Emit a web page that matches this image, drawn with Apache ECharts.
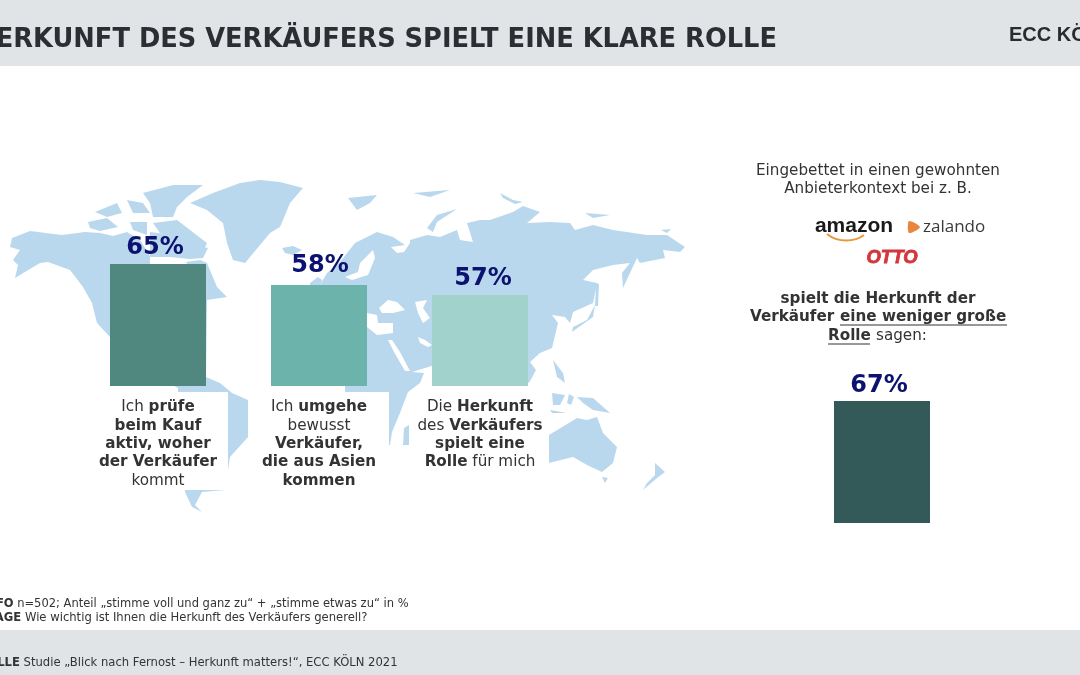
<!DOCTYPE html>
<html>
<head>
<meta charset="utf-8">
<style>html,body{margin:0;padding:0;background:#fff}#main{width:1080px;height:675px}</style>
<script src="https://cdn.jsdelivr.net/npm/echarts@6/dist/echarts.min.js"></script>
</head>
<body>
<div id="main"></div>
<script>
var myChart = echarts.init(document.getElementById('main'));

// Chart data
const categories = [
  'Ich {b|prüfe}\n{b|beim Kauf}\n{b|aktiv, woher}\n{b|der Verkäufer}\nkommt',
  'Ich {b|umgehe}\nbewusst\n{b|Verkäufer,}\n{b|die aus Asien}\n{b|kommen}',
  'Die {b|Herkunft}\ndes {b|Verkäufers}\n{b|spielt eine}\n{b|Rolle} für mich',
  ''
];
const values = [65, 58, 57, 67];
const barColors = ['#508880', '#6bb3ab', '#a1d2cb', '#335a58'];

// Every bar is a separate shape on the slide, so each one gets its own grid
const barBoxes = [
  { left: 110, top: 264, height: 122, gap: 4, dx: -3 },
  { left: 271, top: 285, height: 101, gap: 7, dx: 1 },
  { left: 432, top: 295, height: 91, gap: 4, dx: 3 },
  { left: 834, top: 401, height: 122, gap: 3, dx: -3 }
];

const LAND = '#b9d8ee';
const FONT = '"DejaVu Sans"';
const TEXT = '#333333';
const BODY = 15.2;

// Background map, hand traced in page pixels
const land = [
  // north + south america
  [[15,278],[18,265],[13,260],[20,250],[10,247],[12,238],[30,231],[62,235],[85,232],[100,233],[113,236],[127,232],[140,240],[150,256],[150,270],[190,270],[186,262],[200,260],[207,263],[217,287],[227,297],[207,300],[206,377],[220,383],[232,393],[248,400],[248,437],[230,457],[225,490],[202,492],[195,505],[202,512],[192,507],[185,492],[178,392],[178,388],[125,360],[110,337],[97,323],[92,303],[83,287],[70,270],[48,262],[40,263]],
  // arctic canada
  [[88,222],[107,218],[118,227],[100,231],[90,228]],
  [[95,212],[117,203],[122,213],[107,217]],
  [[127,200],[143,203],[150,213],[133,213]],
  [[143,193],[173,185],[203,185],[187,197],[177,207],[173,217],[153,217],[150,203]],
  [[153,223],[177,220],[190,230],[207,243],[200,258],[187,252],[173,237],[160,233]],
  [[130,222],[147,222],[147,235],[133,230]],
  [[150,232],[175,235],[195,245],[208,248],[203,258],[190,259],[170,257],[150,257]],
  // greenland, iceland, uk
  [[190,203],[213,193],[240,183],[260,180],[280,182],[303,188],[290,203],[280,227],[270,233],[260,245],[245,263],[233,260],[227,243],[223,223],[207,210]],
  [[282,248],[293,246],[302,250],[293,255],[285,253]],
  [[310,283],[318,277],[322,280],[320,286],[310,286]],
  // arctic islands
  [[348,198],[377,195],[370,203],[357,210]],
  [[413,193],[450,190],[430,197]],
  [[427,228],[437,215],[457,209],[437,222],[433,232]],
  [[500,193],[513,200],[523,202],[515,204],[503,198]],
  [[585,213],[610,215],[593,218]],
  [[661,230],[671,229],[667,233]],
  // eurasia + africa
  [[320,285],[327,273],[340,262],[355,243],[377,232],[393,237],[405,245],[398,246],[391,247],[397,253],[404,252],[410,243],[410,240],[427,235],[440,237],[457,230],[460,240],[473,242],[467,223],[480,220],[490,220],[513,212],[523,206],[540,212],[527,223],[550,222],[570,223],[575,230],[593,225],[613,230],[647,235],[667,235],[685,247],[680,252],[663,250],[665,258],[640,263],[637,258],[623,288],[622,273],[630,263],[613,265],[593,270],[583,280],[597,283],[593,303],[573,312],[570,323],[565,317],[552,315],[558,323],[552,348],[540,353],[530,362],[536,370],[529,383],[525,380],[435,365],[412,372],[424,373],[420,383],[408,392],[403,405],[400,413],[392,432],[390,445],[350,445],[345,392],[345,386],[330,380],[320,300]],
  // japan, sakhalin
  [[595,305],[593,317],[572,332],[573,327],[587,320]],
  [[596,283],[599,284],[598,306],[595,306]],
  // south east asia
  [[553,360],[563,373],[565,383],[557,377]],
  [[552,393],[565,395],[560,405],[553,405]],
  [[550,410],[567,413],[552,413]],
  [[569,394],[574,397],[571,405],[567,403]],
  [[577,397],[593,398],[610,413],[593,410],[583,403]],
  // australia, tasmania, new zealand, madagascar
  [[549,435],[577,418],[587,420],[597,417],[603,433],[617,447],[613,463],[602,472],[587,465],[573,457],[549,463]],
  [[602,477],[608,478],[605,483]],
  [[655,463],[665,472],[657,478],[643,490],[647,483],[655,475]],
  [[404,428],[409,425],[409,445],[403,445]]
];
const seas = [
  [[379,308],[388,300],[397,302],[405,310],[393,313],[382,313]],
  [[367,313],[377,315],[378,323],[393,323],[393,333],[377,335],[367,327]],
  [[415,302],[427,300],[423,308],[430,318],[423,323],[418,313]],
  [[418,337],[425,340],[432,345],[428,347],[420,343]],
  [[388,340],[392,340],[400,352],[410,371],[405,371],[394,352]],
  [[360,263],[373,250],[375,258],[368,275],[352,280],[345,277],[358,272]]
];
// white panels behind the bar captions
const captionPanels = [
  [100, 392, 128, 98],
  [262, 392, 127, 108],
  [409, 392, 139, 80]
];

function poly(points, color) {
  return { type: 'polygon', silent: true, z: 0, shape: { points: points }, style: { fill: color } };
}
function rect(x, y, w, h, fill) {
  return { type: 'rect', silent: true, z: 0, shape: { x: x, y: y, width: w, height: h }, style: { fill: fill } };
}
function txt(x, y, text, size, weight, align, extra) {
  return {
    type: 'text', silent: true, z: 5, x: x, y: y,
    style: Object.assign({
      text: text, fontFamily: FONT, fontSize: size, fontWeight: weight,
      fill: TEXT, align: align, verticalAlign: 'middle'
    }, extra || {})
  };
}
function underline(x1, x2, y) {
  return {
    type: 'line', silent: true, z: 5, shape: { x1: x1, y1: y, x2: x2, y2: y },
    style: { stroke: TEXT, lineWidth: 1.2 }
  };
}
function note(x, y, text, size) {
  return txt(x, y, text, size, 'normal', 'left', {
    rich: { b: { fontWeight: 'bold', fontFamily: FONT, fontSize: size, fill: TEXT } }
  });
}

var graphics = []
  .concat(land.map(p => poly(p, LAND)))
  .concat(seas.map(p => poly(p, '#ffffff')))
  .concat(captionPanels.map(p => rect(p[0], p[1], p[2], p[3], '#ffffff')))
  .concat([
    rect(0, 0, 1080, 66, '#e1e4e7'),
    rect(0, 630, 1080, 45, '#e1e4e7'),

    txt(777, 40, 'HERKUNFT DES VERKÄUFERS SPIELT EINE KLARE ROLLE', 25.7, 'bold', 'right', { fill: '#2b2f33' }),
    txt(1009, 35, 'ECC KÖLN', 20, 'bold', 'left', { fontFamily: 'Liberation Sans', fill: '#2b2b2b' }),

    txt(878, 171, 'Eingebettet in einen gewohnten', BODY, 'normal', 'center'),
    txt(878, 189, 'Anbieterkontext bei z. B.', BODY, 'normal', 'center'),

    // retailer logos
    txt(854, 226, 'amazon', 21, 'bold', 'center', { fontFamily: 'Liberation Sans', fill: '#1a1a1a' }),
    {
      type: 'bezierCurve', silent: true, z: 5,
      shape: { x1: 827, y1: 234, x2: 864, y2: 235, cpx1: 838, cpy1: 243, cpx2: 855, cpy2: 242 },
      style: { stroke: '#e9973a', lineWidth: 2, fill: 'none' }
    },
    { type: 'polygon', silent: true, z: 5, shape: { points: [[909, 221], [920, 227], [909, 233]], smooth: 0.3 }, style: { fill: '#e8863f' } },
    txt(923, 227, 'zalando', 17, 'normal', 'left', { fontFamily: 'Open Sans', fill: '#3a3a3a' }),
    txt(892, 258, 'OTTO', 18.5, 'bold', 'center', { fontFamily: 'Liberation Sans', fontStyle: 'italic', fill: '#d2363b', stroke: '#d2363b', lineWidth: 0.8 }),

    txt(878, 299, 'spielt die Herkunft der', BODY, 'bold', 'center'),
    txt(750, 317, 'Verkäufer', BODY, 'bold', 'left'),
    txt(840, 317, 'eine weniger große', BODY, 'bold', 'left'),
    underline(840, 1007, 325),
    txt(828, 336, 'Rolle', BODY, 'bold', 'left'),
    txt(876, 336, 'sagen:', BODY, 'normal', 'left'),
    underline(828, 870, 344),

    // notes, clipped on the left like the slide
    note(-18, 604, '{b|INFO} n=502; Anteil „stimme voll und ganz zu“ + „stimme etwas zu“ in %', 11.5),
    note(-22, 618, '{b|FRAGE} Wie wichtig ist Ihnen die Herkunft des Verkäufers generell?', 11.6),
    note(-30, 663, '{b|QUELLE} Studie „Blick nach Fernost – Herkunft matters!“, ECC KÖLN 2021', 11.6)
  ]);

var option = {
  animation: false,
  backgroundColor: '#ffffff',
  graphic: { elements: graphics },
  grid: barBoxes.map(b => ({ left: b.left, top: b.top, width: 96, height: b.height })),
  xAxis: values.map((v, i) => ({
    type: 'category',
    gridIndex: i,
    data: [categories[i]],
    axisLine: { show: false },
    axisTick: { show: false },
    axisLabel: {
      margin: 12,
      fontFamily: FONT,
      fontSize: BODY,
      lineHeight: 18.4,
      color: TEXT,
      interval: 0,
      rich: { b: { fontFamily: FONT, fontSize: BODY, fontWeight: 'bold', lineHeight: 18.4, color: TEXT } }
    }
  })),
  yAxis: values.map((v, i) => ({ type: 'value', gridIndex: i, min: 0, max: v, show: false })),
  series: values.map((v, i) => ({
    type: 'bar',
    xAxisIndex: i,
    yAxisIndex: i,
    data: [v],
    barWidth: '100%',
    itemStyle: { color: barColors[i] },
    label: {
      show: true,
      position: 'top',
      distance: barBoxes[i].gap,
      offset: [barBoxes[i].dx, 0],
      formatter: '{c}%',
      fontFamily: FONT,
      fontSize: 24,
      fontWeight: 'bold',
      color: '#0b1270'
    }
  }))
};

myChart.setOption(option);
</script>
</body>
</html>
